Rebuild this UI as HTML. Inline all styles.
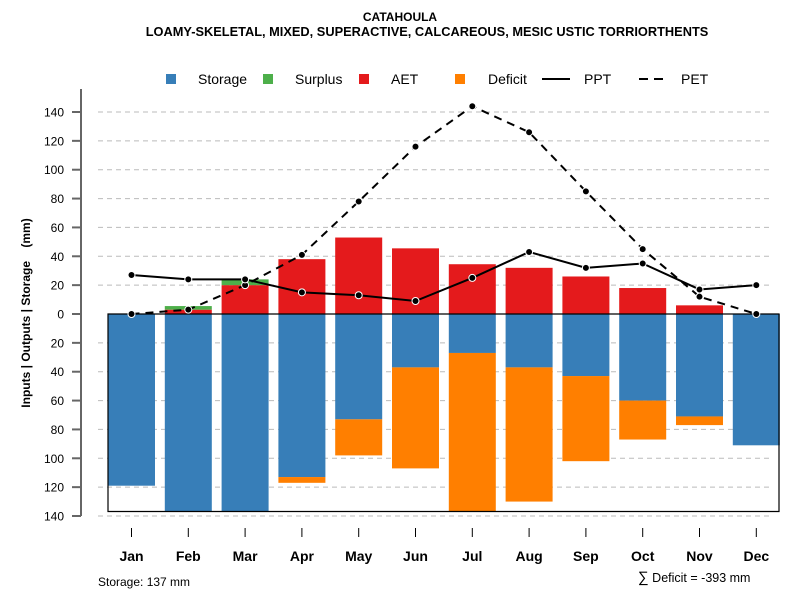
<!DOCTYPE html>
<html><head><meta charset="utf-8"><style>
body{margin:0;background:#fff}
svg{display:block;font-family:"Liberation Sans",Arial,sans-serif}
</style></head><body>
<svg id="c" width="800" height="600">
<text x="400" y="21" text-anchor="middle" font-size="12" font-weight="bold">CATAHOULA</text>
<text x="427" y="36" text-anchor="middle" font-size="12.8" font-weight="bold">LOAMY-SKELETAL, MIXED, SUPERACTIVE, CALCAREOUS, MESIC USTIC TORRIORTHENTS</text>
<g id="grid"></g><g id="bars"></g><g id="lines"></g><g id="axes"></g>
<g font-size="14">
<rect x="166" y="74" width="10" height="10" fill="#377EB8"/><text x="198" y="84">Storage</text>
<rect x="263" y="74" width="10" height="10" fill="#4DAF4A"/><text x="295" y="84">Surplus</text>
<rect x="359" y="74" width="10" height="10" fill="#E41A1C"/><text x="391" y="84">AET</text>
<rect x="455" y="74" width="10" height="10" fill="#FF7F00"/><text x="488" y="84">Deficit</text>
<line x1="542" y1="79" x2="570" y2="79" stroke="#000" stroke-width="2"/><text x="584" y="84">PPT</text>
<line x1="639" y1="79" x2="665" y2="79" stroke="#000" stroke-width="2" stroke-dasharray="9,6"/><text x="681" y="84">PET</text>
</g>
<text x="98" y="586" font-size="12">Storage: 137 mm</text>
<text x="638" y="582" font-size="12.5"><tspan font-size="15">∑</tspan> Deficit = -393 mm</text>
<text transform="translate(30,313) rotate(-90)" text-anchor="middle" font-size="12" font-weight="bold" style="white-space:pre">Inputs | Outputs | Storage    (mm)</text>
</svg>
<script>
const months=["Jan","Feb","Mar","Apr","May","Jun","Jul","Aug","Sep","Oct","Nov","Dec"];
const storage=[119,137,137,113,73,37,27,37,43,60,71,91];
const deficit=[0,0,0,4,25,70,110,93,59,27,6,0];
const aet=[0,3,20,38,53,45.5,34.5,32,26,18,6,0];
const surplus=[0,2.5,4,0,0,0,0,0,0,0,0,0];
const ppt=[27,24,24,15,13,9,25,43,32,35,17,20];
const pet=[0,3,20,41,78,116,144,126,85,45,12,0];
const yTicks=[140,120,100,80,60,40,20,0,20,40,60,80,100,120,140];
const yTickVals=[140,120,100,80,60,40,20,0,-20,-40,-60,-80,-100,-120,-140];
const NS="http://www.w3.org/2000/svg";
const y=v=>314-v*1.4429;
const x=i=>131.5+i*56.8;
const bw=47;
function mk(p,t,a){const e=document.createElementNS(NS,t);for(const k in a)e.setAttribute(k,a[k]);document.getElementById(p).appendChild(e);return e;}
yTickVals.forEach((v,i)=>{
 if(v!==0){const g=mk('grid','line',{x1:98,x2:772,y1:y(v),y2:y(v),stroke:'#bbb','stroke-dasharray':'5,4'});
 
 }
 const t=mk('axes','line',{x1:72,x2:81,y1:y(v),y2:y(v),stroke:'#666','stroke-width':2});
 
 
 const l=mk('axes','text',{x:64,y:y(v)+4.5,'text-anchor':'end','font-size':12});l.textContent=yTicks[i];
 
 
});
const ax=mk('axes','line',{x1:81,x2:81,y1:89,y2:y(-140),stroke:'#666','stroke-width':2});


months.forEach((m,i)=>{
 const cx=x(i),L=cx-bw/2;
 const s=mk('bars','rect',{x:L,y:314,width:bw,height:y(-storage[i])-314,fill:'#377EB8'});
 
 
 if(deficit[i]>0){const d=mk('bars','rect',{x:L,y:y(-storage[i]),width:bw,height:y(-storage[i]-deficit[i])-y(-storage[i]),fill:'#FF7F00'});
 
 }
 if(aet[i]>0){const a=mk('bars','rect',{x:L,y:y(aet[i]),width:bw,height:314-y(aet[i]),fill:'#E41A1C'});
 
 }
 if(surplus[i]>0){const g=mk('bars','rect',{x:L,y:y(aet[i]+surplus[i]),width:bw,height:y(aet[i])-y(aet[i]+surplus[i]),fill:'#4DAF4A'});
 
 }
 const tk=mk('axes','line',{x1:cx,x2:cx,y1:528,y2:537,stroke:'#000'});
 
 
 const t=mk('axes','text',{x:cx,y:561,'text-anchor':'middle','font-size':14,'font-weight':'bold'});t.textContent=m;
 
 
});
const box=mk('bars','path',{d:`M108,314 V511.5 H779 V314 Z`,fill:'none',stroke:'#000','stroke-width':1.2});


const pl=mk('lines','polyline',{points:pet.map((v,i)=>x(i)+','+y(v)).join(' '),fill:'none',stroke:'#000','stroke-width':2,'stroke-dasharray':'8,6'});


const pp=mk('lines','polyline',{points:ppt.map((v,i)=>x(i)+','+y(v)).join(' '),fill:'none',stroke:'#000','stroke-width':2});


[pet,ppt].forEach((s,k)=>s.forEach((v,i)=>{
 const c=mk('lines','circle',{cx:x(i),cy:y(v),r:3.5,fill:'#000',stroke:'#fff','stroke-width':1});
 
 
}));
</script>
</body></html>
